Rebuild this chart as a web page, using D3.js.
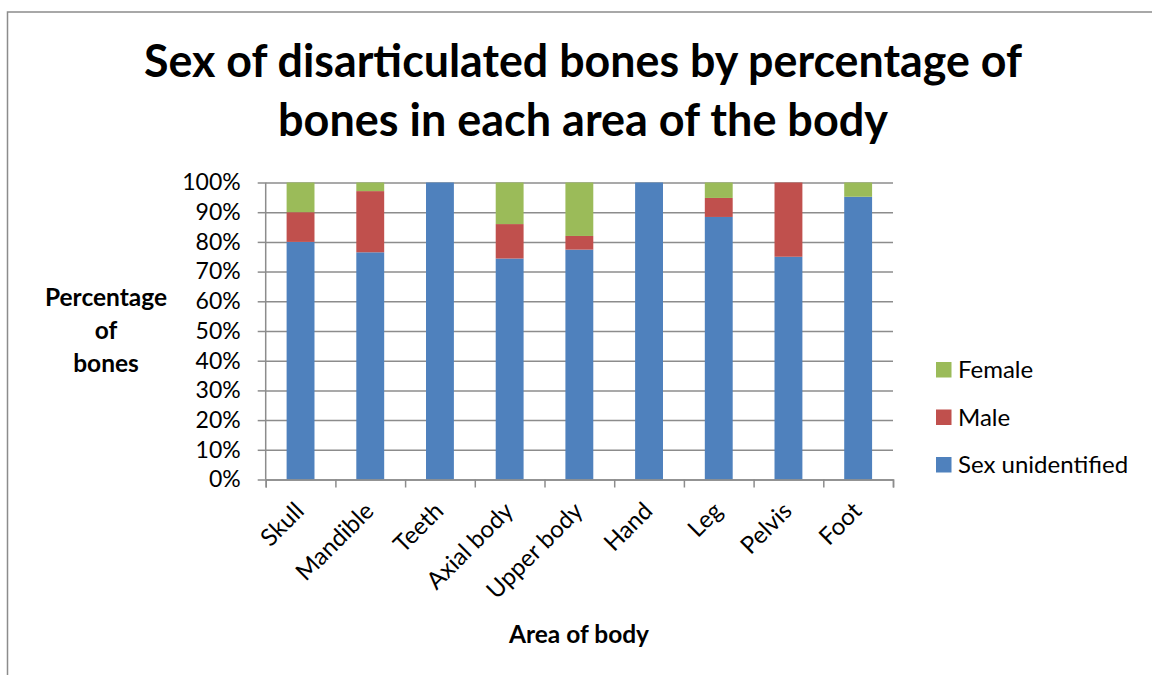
<!DOCTYPE html>
<html>
<head>
<meta charset="utf-8">
<script src="https://cdn.jsdelivr.net/npm/d3@7"></script>
<style>
  body { margin: 0; background: #fff; }
  svg { display: block; font-family: Lato, "Open Sans", sans-serif; }
</style>
</head>
<body>
<div id="wrapper"></div>
<script>
// data (percent of bones)
const categories = ["Skull", "Mandible", "Teeth", "Axial body", "Upper body", "Hand", "Leg", "Pelvis", "Foot"]
const unidentified = [80, 76.5, 100, 74.4, 77.4, 100, 88.4, 75, 95.2]
const male = [10, 20.6, 0, 11.6, 4.6, 0, 6.4, 25, 0]
const female = [10, 2.9, 0, 14.0, 18.0, 0, 5.2, 0, 4.8]

const seriesNames = ["Sex unidentified", "Male", "Female"]
const seriesColors = ["#4F81BD", "#C0504D", "#9BBB59"]
const yTicks = [0, 10, 20, 30, 40, 50, 60, 70, 80, 90, 100]

const titleLines = ["Sex of disarticulated bones by percentage of", "bones in each area of the body"]
const yTitleLines = ["Percentage", "of", "bones"]
const xTitle = "Area of body"

let dimensions = {
    width: 1152,
    height: 675,
    margin: {
        top: 182.5,
        right: 259,
        bottom: 195.5,
        left: 265.7,
    }
}
dimensions.boundedWidth = dimensions.width - dimensions.margin.left - dimensions.margin.right
dimensions.boundedHeight = dimensions.height - dimensions.margin.top - dimensions.margin.bottom

const table = categories.map((c, i) => ({
    category: c,
    "Sex unidentified": unidentified[i],
    "Male": male[i],
    "Female": female[i],
}))

const stacked = d3.stack().keys(seriesNames)(table)

const svg = d3.select("#wrapper")
    .append("svg")
    .attr("width", dimensions.width)
    .attr("height", dimensions.height)

// chart frame
svg.append("rect")
    .attr("x", 7.5)
    .attr("y", 12)
    .attr("width", 1160)
    .attr("height", 680)
    .attr("fill", "#fff")
    .attr("stroke", "#8c8c8c")
    .attr("stroke-width", 1.5)

// title
svg.append("g")
    .selectAll("text")
    .data(titleLines)
    .join("text")
    .attr("x", 583)
    .attr("y", (d, i) => 77 + i * 59)
    .attr("text-anchor", "middle")
    .attr("font-size", 46)
    .attr("font-weight", "bold")
    .attr("fill", "#000")
    .attr("textLength", (d, i) => i === 0 ? 878 : 610)
    .attr("lengthAdjust", "spacingAndGlyphs")
    .text(d => d)

const bounds = svg.append("g")
    .attr("transform", `translate(${dimensions.margin.left}, ${dimensions.margin.top})`)

const xScale = d3.scaleBand()
    .domain(categories)
    .range([0, dimensions.boundedWidth])
    .paddingInner(0.6)
    .paddingOuter(0.3)

const yScale = d3.scaleLinear()
    .domain([0, 100])
    .range([dimensions.boundedHeight, 0])

// gridlines
bounds.append("g")
    .call(d3.axisLeft(yScale).tickValues(yTicks).tickSize(-dimensions.boundedWidth).tickFormat(""))
    .call(g => g.select(".domain").remove())
    .call(g => g.selectAll("line").attr("stroke", "#8c8c8c").attr("stroke-width", 1.5))

// y axis
const yAxis = bounds.append("g")
    .call(d3.axisLeft(yScale).tickValues(yTicks).tickSize(8).tickPadding(17).tickFormat(d => d + "%"))
yAxis.select(".domain").attr("stroke", "#8c8c8c").attr("stroke-width", 1.5).attr("d", `M0,0V${dimensions.boundedHeight}`)
yAxis.selectAll("line").attr("stroke", "#8c8c8c").attr("stroke-width", 1.5)
yAxis.selectAll("text")
    .attr("font-family", "Lato, 'Open Sans', sans-serif")
    .attr("font-size", 23)
    .attr("fill", "#000")

// bars
bounds.append("g")
    .selectAll("g")
    .data(stacked)
    .join("g")
    .attr("fill", (d, i) => seriesColors[i])
    .selectAll("rect")
    .data(d => d)
    .join("rect")
    .attr("x", d => xScale(d.data.category))
    .attr("y", d => yScale(d[1]))
    .attr("width", xScale.bandwidth())
    .attr("height", d => yScale(d[0]) - yScale(d[1]))

// x axis: tick marks sit between categories
const boundaryScale = d3.scaleLinear()
    .domain([0, categories.length])
    .range([0, dimensions.boundedWidth])

const xAxis = bounds.append("g")
    .attr("transform", `translate(0, ${dimensions.boundedHeight})`)
    .call(d3.axisBottom(boundaryScale).ticks(categories.length).tickSizeOuter(0).tickSize(8).tickFormat(""))
xAxis.select(".domain").attr("stroke", "#8c8c8c").attr("stroke-width", 1.5)
xAxis.selectAll("line").attr("stroke", "#8c8c8c").attr("stroke-width", 1.5)

// category labels, rotated
bounds.append("g")
    .selectAll("text")
    .data(categories)
    .join("text")
    .attr("transform", d => `translate(${xScale(d) + xScale.bandwidth() / 2 + 5}, ${dimensions.boundedHeight + 33}) rotate(-45)`)
    .attr("text-anchor", "end")
    .attr("font-size", 24)
    .attr("fill", "#000")
    .text(d => d)

// axis titles
svg.append("text")
    .attr("x", 579)
    .attr("y", 643)
    .attr("text-anchor", "middle")
    .attr("font-size", 24.5)
    .attr("font-weight", "bold")
    .text(xTitle)

svg.append("g")
    .selectAll("text")
    .data(yTitleLines)
    .join("text")
    .attr("x", 106)
    .attr("y", (d, i) => 306 + i * 33)
    .attr("text-anchor", "middle")
    .attr("font-size", 24.5)
    .attr("font-weight", "bold")
    .text(d => d)

// legend, Female on top
const legendItems = seriesNames.slice().reverse()
const legend = svg.append("g")
    .selectAll("g")
    .data(legendItems)
    .join("g")
    .attr("transform", (d, i) => `translate(936, ${362 + i * 47.5})`)

legend.append("rect")
    .attr("width", 15.5)
    .attr("height", 15.5)
    .attr("fill", d => seriesColors[seriesNames.indexOf(d)])

legend.append("text")
    .attr("x", 22)
    .attr("y", 16)
    .attr("font-size", 24)
    .attr("fill", "#000")
    .text(d => d)
</script>
</body>
</html>
